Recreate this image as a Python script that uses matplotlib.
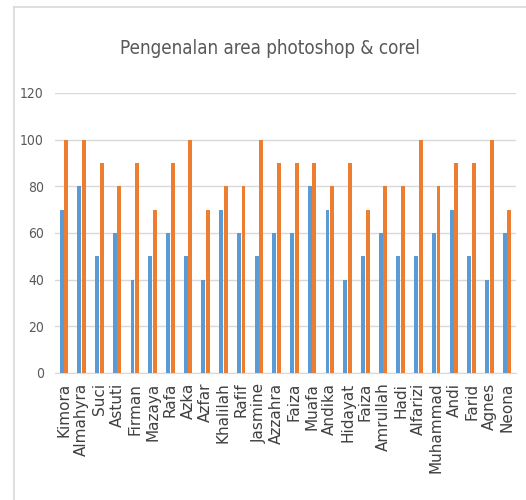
import matplotlib.pyplot as plt
import numpy as np
from matplotlib.lines import Line2D

nama = ["Kimora", "Almahyra", "Suci", "Astuti", "Firman", "Mazaya", "Rafa", "Azka",
        "Azfar", "Khalilah", "Rafif", "Jasmine", "Azzahra", "Faiza", "Muafa", "Andika",
        "Hidayat", "Faiza", "Amrullah", "Hadi", "Alfarizi", "Muhammad", "Andi", "Farid",
        "Agnes", "Neona"]
nilai_1 = [70, 80, 50, 60, 40, 50, 60, 50, 40, 70, 60, 50, 60, 60, 80, 70,
           40, 50, 60, 50, 50, 60, 70, 50, 40, 60]
nilai_2 = [100, 100, 90, 80, 90, 70, 90, 100, 70, 80, 80, 100, 90, 90, 90, 80,
           90, 70, 80, 80, 100, 80, 90, 90, 100, 70]

plt.rcParams['font.family'] = ['DejaVu Sans']
plt.rcParams['font.stretch'] = 'condensed'

fig = plt.figure(figsize=(5.26, 5.0), dpi=100)
ax = fig.add_axes([55/526, 1-373/500, 461/526, 280/500])

x = np.arange(len(nama))
w = 0.22
ax.bar(x - 0.13, nilai_1, w, color='#5B9BD5', zorder=3)
ax.bar(x + 0.13, nilai_2, w, color='#ED7D31', zorder=3)

ax.set_xlim(-0.5, len(nama) - 0.5)
ax.set_ylim(0, 120)
ax.set_yticks(range(0, 121, 20))
ax.yaxis.grid(True, color='#D9D9D9', linewidth=1, zorder=0)
for s in ['top', 'right', 'left']:
    ax.spines[s].set_visible(False)
ax.spines['bottom'].set_color('#D9D9D9')
ax.tick_params(axis='both', length=0)
ax.tick_params(axis='y', labelsize=10, labelcolor='#595959', pad=8)
ax.set_xticks(x)
ax.set_xticklabels(nama, rotation=90, fontsize=11, color='#404040',
                   family='DejaVu Sans', fontstretch='normal')
ax.tick_params(axis='x', pad=7)

fig.text(270/526, 1-48/500, "Pengenalan area photoshop & corel", ha='center', va='center',
         fontsize=13.5, color='#595959', fontweight='light')

# chart frame
fig.add_artist(Line2D([14/526, 1], [1-7/500, 1-7/500], color='#D9D9D9', lw=1.2))
fig.add_artist(Line2D([14/526, 14/526], [0, 1-7/500], color='#D9D9D9', lw=1.2))

fig.savefig("out.png", dpi=100)
